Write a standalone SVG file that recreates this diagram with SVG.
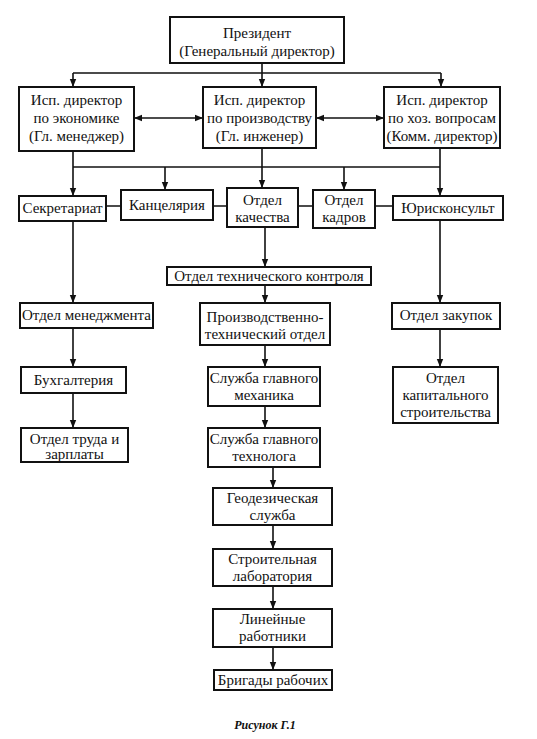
<svg xmlns="http://www.w3.org/2000/svg" width="537" height="739" viewBox="0 0 537 739">
<style>
.b{fill:#fff;stroke:#111;stroke-width:2}
.t{font-family:"Liberation Serif","Times New Roman",serif;font-size:15px;fill:#111;text-anchor:middle}
.c{fill:none;stroke:#111;stroke-width:1.6}
.a{marker-end:url(#ar)}
.d{marker-start:url(#as);marker-end:url(#ar)}
.cap{font-family:"Liberation Serif","Times New Roman",serif;font-size:12px;font-weight:bold;font-style:italic;fill:#111;text-anchor:middle}
</style>
<defs>
<marker id="ar" markerUnits="userSpaceOnUse" markerWidth="10" markerHeight="8" refX="8" refY="4" orient="auto">
<path d="M0,0.8 L8,4 L0,7.2 Z" fill="#111"/>
</marker>
<marker id="as" markerUnits="userSpaceOnUse" markerWidth="10" markerHeight="8" refX="0" refY="4" orient="auto">
<path d="M8,0.8 L0,4 L8,7.2 Z" fill="#111"/>
</marker>
</defs>
<rect width="537" height="739" fill="#fff"/>
<g id="connectors">
<path class="c" d="M262,63 V73 M73,73 H441"/>
<path class="c a" d="M73,73 V87"/>
<path class="c a" d="M262,73 V87"/>
<path class="c a" d="M441,73 V87"/>
<path class="c d" d="M134,118 H203"/>
<path class="c d" d="M316,118 H384"/>
<path class="c" d="M73,167 H440"/>
<path class="c a" d="M73,151 V196"/>
<path class="c a" d="M262,148 V188"/>
<path class="c a" d="M440,148 V196"/>
<path class="c a" d="M165,167 V190"/>
<path class="c a" d="M344,167 V190"/>
<path class="c" d="M106,206 H121 M213,206 H227 M298,206 H313 M375,206 H393"/>
<path class="c a" d="M265,227 V267"/>
<path class="c a" d="M265,285 V303"/>
<path class="c a" d="M265,345 V367"/>
<path class="c a" d="M265,406 V428"/>
<path class="c a" d="M273,467 V488"/>
<path class="c a" d="M273,525 V549"/>
<path class="c a" d="M273,586 V609"/>
<path class="c a" d="M273,647 V670"/>
<path class="c a" d="M73,221 V303"/>
<path class="c a" d="M73,328 V367"/>
<path class="c a" d="M73,393 V428"/>
<path class="c a" d="M440,220 V303"/>
<path class="c a" d="M440,329 V367"/>
</g>
<g id="president"><rect class="b" x="170" y="17" width="174" height="46"/><text class="t" x="257" y="38">Президент</text><text class="t" x="257" y="56">(Генеральный директор)</text></g>
<g id="dir-econ"><rect class="b" x="19" y="87" width="115" height="64"/><text class="t" x="76.5" y="105">Исп. директор</text><text class="t" x="76.5" y="123">по экономике</text><text class="t" x="76.5" y="141">(Гл. менеджер)</text></g>
<g id="dir-prod"><rect class="b" x="203" y="87" width="113" height="61"/><text class="t" x="259.5" y="105">Исп. директор</text><text class="t" x="259.5" y="123">по производству</text><text class="t" x="259.5" y="141">(Гл. инженер)</text></g>
<g id="dir-hoz"><rect class="b" x="384" y="87" width="116" height="61"/><text class="t" x="442" y="105">Исп. директор</text><text class="t" x="442" y="123">по хоз. вопросам</text><text class="t" x="442" y="141">(Комм. директор)</text></g>
<g id="secretariat"><rect class="b" x="19" y="196" width="87" height="25"/><text class="t" x="62.5" y="213">Секретариат</text></g>
<g id="kanc"><rect class="b" x="121" y="190" width="92" height="30"/><text class="t" x="167" y="210">Канцелярия</text></g>
<g id="quality"><rect class="b" x="227" y="188" width="71" height="39"/><text class="t" x="262.5" y="205">Отдел</text><text class="t" x="262.5" y="222">качества</text></g>
<g id="kadry"><rect class="b" x="313" y="190" width="62" height="38"/><text class="t" x="344" y="205">Отдел</text><text class="t" x="344" y="222">кадров</text></g>
<g id="jurist"><rect class="b" x="393" y="196" width="110" height="24"/><text class="t" x="448" y="213">Юрисконсульт</text></g>
<g id="otk"><rect class="b" x="167" y="267" width="204" height="18"/><text class="t" x="269" y="281">Отдел технического контроля</text></g>
<g id="pto"><rect class="b" x="200" y="303" width="130" height="42"/><text class="t" x="265" y="322">Производственно-</text><text class="t" x="265" y="339">технический отдел</text></g>
<g id="sgm"><rect class="b" x="208" y="367" width="112" height="39"/><text class="t" x="264" y="383">Служба главного</text><text class="t" x="264" y="400">механика</text></g>
<g id="sgt"><rect class="b" x="208" y="428" width="112" height="39"/><text class="t" x="264" y="444">Служба главного</text><text class="t" x="264" y="461">технолога</text></g>
<g id="geo"><rect class="b" x="213" y="488" width="119" height="37"/><text class="t" x="272.5" y="503">Геодезическая</text><text class="t" x="272.5" y="520">служба</text></g>
<g id="lab"><rect class="b" x="213" y="549" width="119" height="37"/><text class="t" x="272.5" y="564">Строительная</text><text class="t" x="272.5" y="581">лаборатория</text></g>
<g id="linear"><rect class="b" x="213" y="609" width="119" height="38"/><text class="t" x="272.5" y="624">Линейные</text><text class="t" x="272.5" y="641">работники</text></g>
<g id="brigady"><rect class="b" x="214" y="670" width="118" height="20"/><text class="t" x="273" y="685">Бригады рабочих</text></g>
<g id="mgmt"><rect class="b" x="20" y="303" width="133" height="25"/><text class="t" x="86.5" y="320">Отдел менеджмента</text></g>
<g id="buh"><rect class="b" x="21" y="367" width="105" height="26"/><text class="t" x="73.5" y="385">Бухгалтерия</text></g>
<g id="trud"><rect class="b" x="21" y="428" width="107" height="34"/><text class="t" x="74.5" y="444">Отдел труда и</text><text class="t" x="74.5" y="459">зарплаты</text></g>
<g id="zakup"><rect class="b" x="392" y="303" width="108" height="26"/><text class="t" x="446" y="320">Отдел закупок</text></g>
<g id="kapstroy"><rect class="b" x="393" y="367" width="105" height="56"/><text class="t" x="445.5" y="383">Отдел</text><text class="t" x="445.5" y="400">капитального</text><text class="t" x="445.5" y="417">строительства</text></g>
<text class="cap" x="265" y="729">Рисунок Г.1</text>
</svg>
